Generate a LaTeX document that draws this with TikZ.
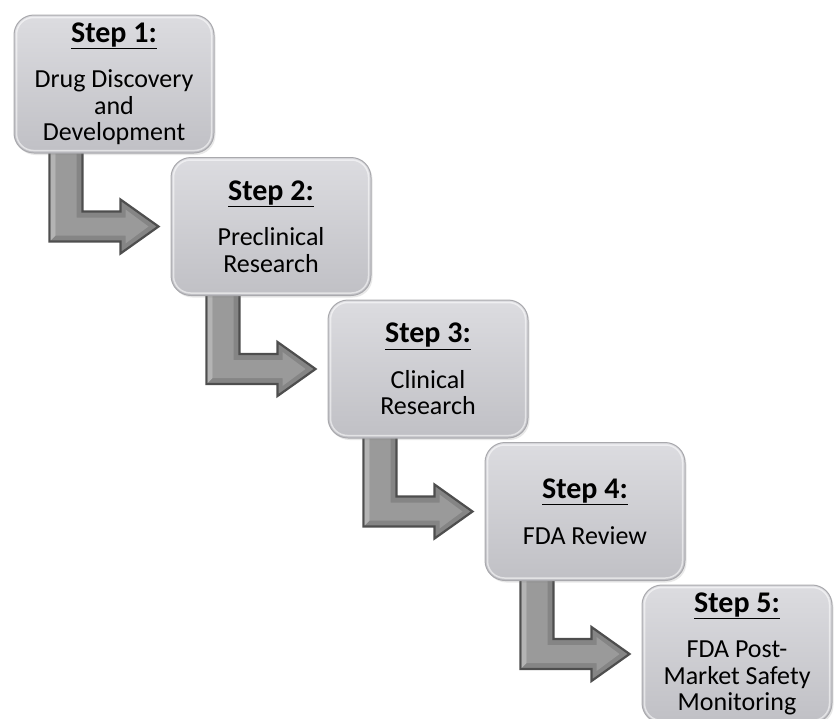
\documentclass[tikz,border=0pt]{standalone}
\usepackage{fontspec}
\setmainfont{Carlito}
\usetikzlibrary{calc,backgrounds,shadows}
\definecolor{boxtop}{HTML}{DCDCE0}
\definecolor{boxbot}{HTML}{C0C0C5}
\definecolor{boxrim}{HTML}{A9A9AD}
\definecolor{arrline}{HTML}{4E4E4E}
\definecolor{arrfill}{HTML}{858585}
\definecolor{arrface}{HTML}{9A9A9A}
\definecolor{arrlight}{HTML}{B4B4B4}
\tikzset{
  stepbox/.style={rectangle, rounded corners=20pt, minimum width=200pt,
    minimum height=138pt, text width=200pt, inner sep=0pt, align=flush center,
    top color=boxtop, bottom color=boxbot, draw=boxrim, line width=1pt,
    drop shadow={opacity=0.18, shadow xshift=1.5pt, shadow yshift=-2pt},
    font=\fontsize{26}{26.5}\selectfont},
  arrowout/.style={fill=arrfill, draw=arrline, line width=2.2pt, line join=miter},
  arrowin/.style={fill=arrface},
  arrowlit/.style={fill=arrlight},
  boxsheen/.style={draw=white, opacity=0.55, line width=1.5pt, rounded corners=17pt},
}
\newcommand\stephead[1]{{\fontsize{30}{32}\selectfont\bfseries\underline{#1}}\\[19pt]}
\newcommand\steparrow[2]{%
  \path[arrowout] let \p1=(#1.south west), \p2=(#2.west) in
    (\x1+36pt,\y1+3pt) -- (\x1+69pt,\y1+3pt) -- (\x1+69pt,\y2+15pt)
    -- (\x2-50pt,\y2+15pt) -- (\x2-50pt,\y2+27pt) -- (\x2-12pt,\y2)
    -- (\x2-50pt,\y2-27pt) -- (\x2-50pt,\y2-15pt) -- (\x1+36pt,\y2-15pt) -- cycle;
  \path[arrowin] let \p1=(#1.south west), \p2=(#2.west) in
    (\x1+42pt,\y1+3pt) -- (\x1+63pt,\y1+3pt) -- (\x1+63pt,\y2+9pt)
    -- (\x2-45pt,\y2+9pt) -- (\x2-45pt,\y2+17pt) -- (\x2-22pt,\y2)
    -- (\x2-45pt,\y2-17pt) -- (\x2-45pt,\y2-9pt) -- (\x1+42pt,\y2-9pt) -- cycle;
  \path[arrowlit] let \p1=(#1.south west), \p2=(#2.west) in
    (\x1+37.2pt,\y1+3pt) -- (\x1+42pt,\y1+3pt) -- (\x1+42pt,\y2-9pt)
    -- (\x1+37.2pt,\y2-13.8pt) -- cycle;
}
\begin{document}
\begin{tikzpicture}[x=1pt,y=-1pt]
\useasboundingbox (0,0) rectangle (834,718);
\clip (0,0) rectangle (834,718);
\node[stepbox] (b1) at (114,84) {\stephead{Step 1:}Drug Discovery\\and\\Development};
\node[stepbox] (b2) at (271,226.5) {\stephead{Step 2:}Preclinical\\Research};
\node[stepbox] (b3) at (428,369) {\stephead{Step 3:}Clinical\\Research};
\node[stepbox] (b4) at (585,511.5) {\stephead{Step 4:}FDA Review};
\node[stepbox, minimum width=190pt, text width=190pt] (b5) at (737,654) {\stephead{Step 5:}FDA Post-\\Market Safety\\Monitoring};
\foreach \n in {b1,b2,b3,b4,b5}
  \draw[boxsheen] ($(\n.south west)+(3pt,3pt)$) rectangle ($(\n.north east)+(-3pt,-3pt)$);
\begin{pgfonlayer}{background}
\steparrow{b1}{b2}
\steparrow{b2}{b3}
\steparrow{b3}{b4}
\steparrow{b4}{b5}
\end{pgfonlayer}
\end{tikzpicture}
\end{document}
